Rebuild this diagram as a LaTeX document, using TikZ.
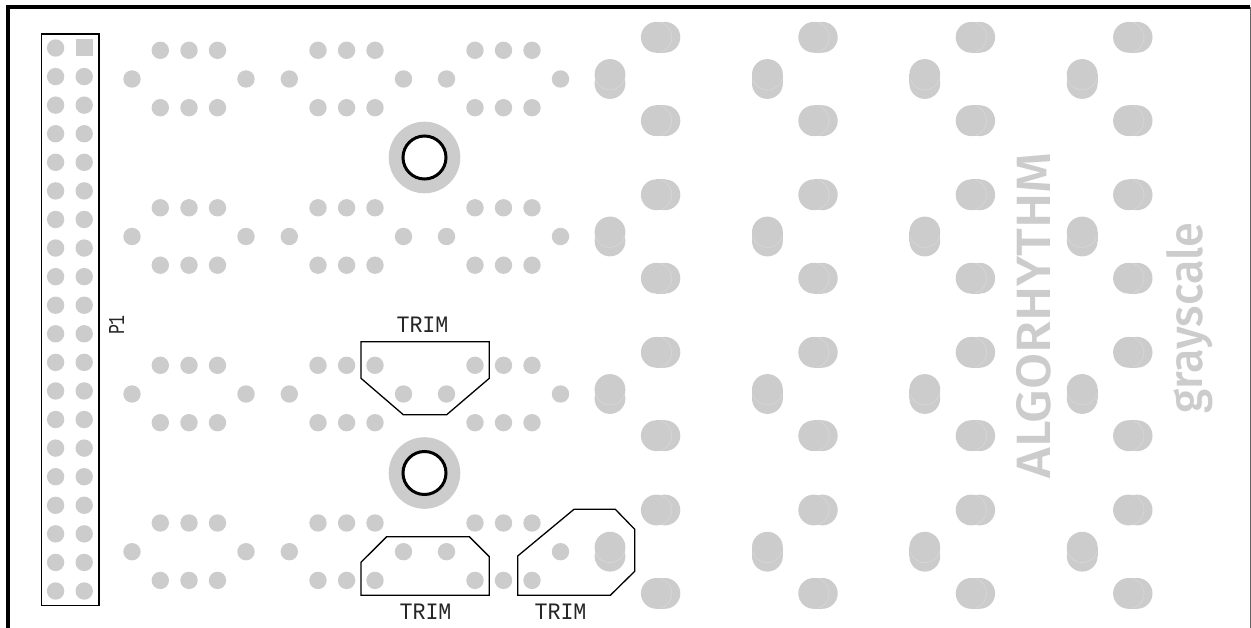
\documentclass[tikz,border=0pt]{standalone}
\usepackage{fontspec}
\setmainfont{Liberation Sans}
\newfontfamily\logofont{Fira Sans Medium}
\newfontfamily\logosemi{Fira Sans Medium}
\newfontfamily\silkfont{Liberation Mono}
\definecolor{pad}{HTML}{CCCCCC}
\definecolor{padedge}{HTML}{D8D8D8}
\tikzset{
  outline/.style={draw=black,line width=1.3pt,line join=miter},
  silktext/.style={inner sep=0pt,font=\silkfont,text=black!85},
}
\newcommand{\hpad}[2]{%
  \fill[pad] (#1+4.3,#2) circle[radius=15.4];
  \fill[pad] (#1-4.3,#2) circle[radius=15.4];
  \fill[pad] (#1-4.3,#2-15.4) rectangle (#1+4.3,#2+15.4);
  \draw[padedge,line width=.6pt] (#1-4.3,#2) ++(-72:15.4) arc[start angle=-72,end angle=72,radius=15.4];
}
\newcommand{\vpad}[2]{%
  \fill[pad] (#1,#2-4.5) circle[radius=15.4];
  \fill[pad] (#1,#2+4.5) circle[radius=15.4];
  \fill[pad] (#1-15.4,#2-4.5) rectangle (#1+15.4,#2+4.5);
  \draw[padedge,line width=.6pt] (#1,#2-4.5) ++(162:15.4) arc[start angle=162,end angle=18,radius=15.4];
}
\begin{document}
\begin{tikzpicture}[x=1pt,y=-1pt]
\useasboundingbox (0,0) rectangle (1251,628);
\fill[white] (0,0) rectangle (1251,628);
% board edge
\draw[black,line width=3.6pt,line join=miter] (8,628) -- (8,6.8) -- (1250.3,6.8);
\draw[black!60,line width=1pt] (1250.5,6.8) -- (1250.5,628);
% header
\draw[outline] (41.5,34) rectangle (99,605.5);
\foreach \r in {0,...,19}{
  \fill[pad] (55.6,48+28.58*\r) circle[radius=8.7];
  \ifnum\r>0 \fill[pad] (84.2,48+28.58*\r) circle[radius=8.7];\fi
}
\fill[pad] (75.7,39.5) rectangle (92.7,56.5);
% dot groups
\foreach \cy in {79,236.5,394,551.7}{
  \foreach \x in {160.3,189,217.5,318,346.6,375,475,503.5,532}{
    \fill[pad] (\x,\cy-28.7) circle[radius=8.7];
    \fill[pad] (\x,\cy+28.7) circle[radius=8.7];
  }
  \foreach \x in {132,246,289.3,403.5,446.5,560.5}{
    \fill[pad] (\x,\cy) circle[radius=8.7];
  }
  \foreach \dx in {0,157.4,314.8,472.2}{
    \vpad{610+\dx}{\cy}
    \hpad{660.6+\dx}{\cy-41.7}
    \hpad{660.6+\dx}{\cy+41.7}
  }
}
% mounting holes
\foreach \cy in {157.5,473}{
  \fill[pad] (424.5,\cy) circle[radius=35.8];
  \draw[black,line width=3pt,fill=white] (424.5,\cy) circle[radius=21.5];
}
% trim outlines
\draw[outline] (361,341.7) -- (489.3,341.7) -- (489.3,378.3) -- (446.7,414.7) -- (403.3,414.7) -- (361,378.3) -- cycle;
\draw[outline] (361,595.3) -- (489.3,595.3) -- (489.3,556.7) -- (469.3,536.7) -- (386.7,536.7) -- (361,562.3) -- cycle;
\draw[outline] (517.7,595.3) -- (610.3,595.3) -- (634.7,571.3) -- (634.7,529.3) -- (615.3,509.3) -- (574,509.3) -- (517.7,556) -- cycle;
% texts
\node[silktext,anchor=base] (trimA) at (422.5,333) {\resizebox{52pt}{15.5pt}{TRIM}};
\node[silktext,anchor=base] (trimB) at (425.5,619) {\resizebox{52pt}{15.5pt}{TRIM}};
\node[silktext,anchor=base] (trimC) at (560.5,619) {\resizebox{52pt}{15.5pt}{TRIM}};
\node[silktext,rotate=90,anchor=base] (pone) at (124,325) {\resizebox{20pt}{15pt}{P1}};
\node[inner sep=0pt,rotate=90,anchor=base west,text=pad] (algo) at (1050,478.3) {\resizebox{326pt}{34pt}{\logosemi ALGORHYTHM}};
\node[inner sep=0pt,rotate=90,anchor=base west,text=pad] (gray) at (1202,414) {\resizebox{191pt}{36pt}{\logofont grayscale}};
\end{tikzpicture}
\end{document}
